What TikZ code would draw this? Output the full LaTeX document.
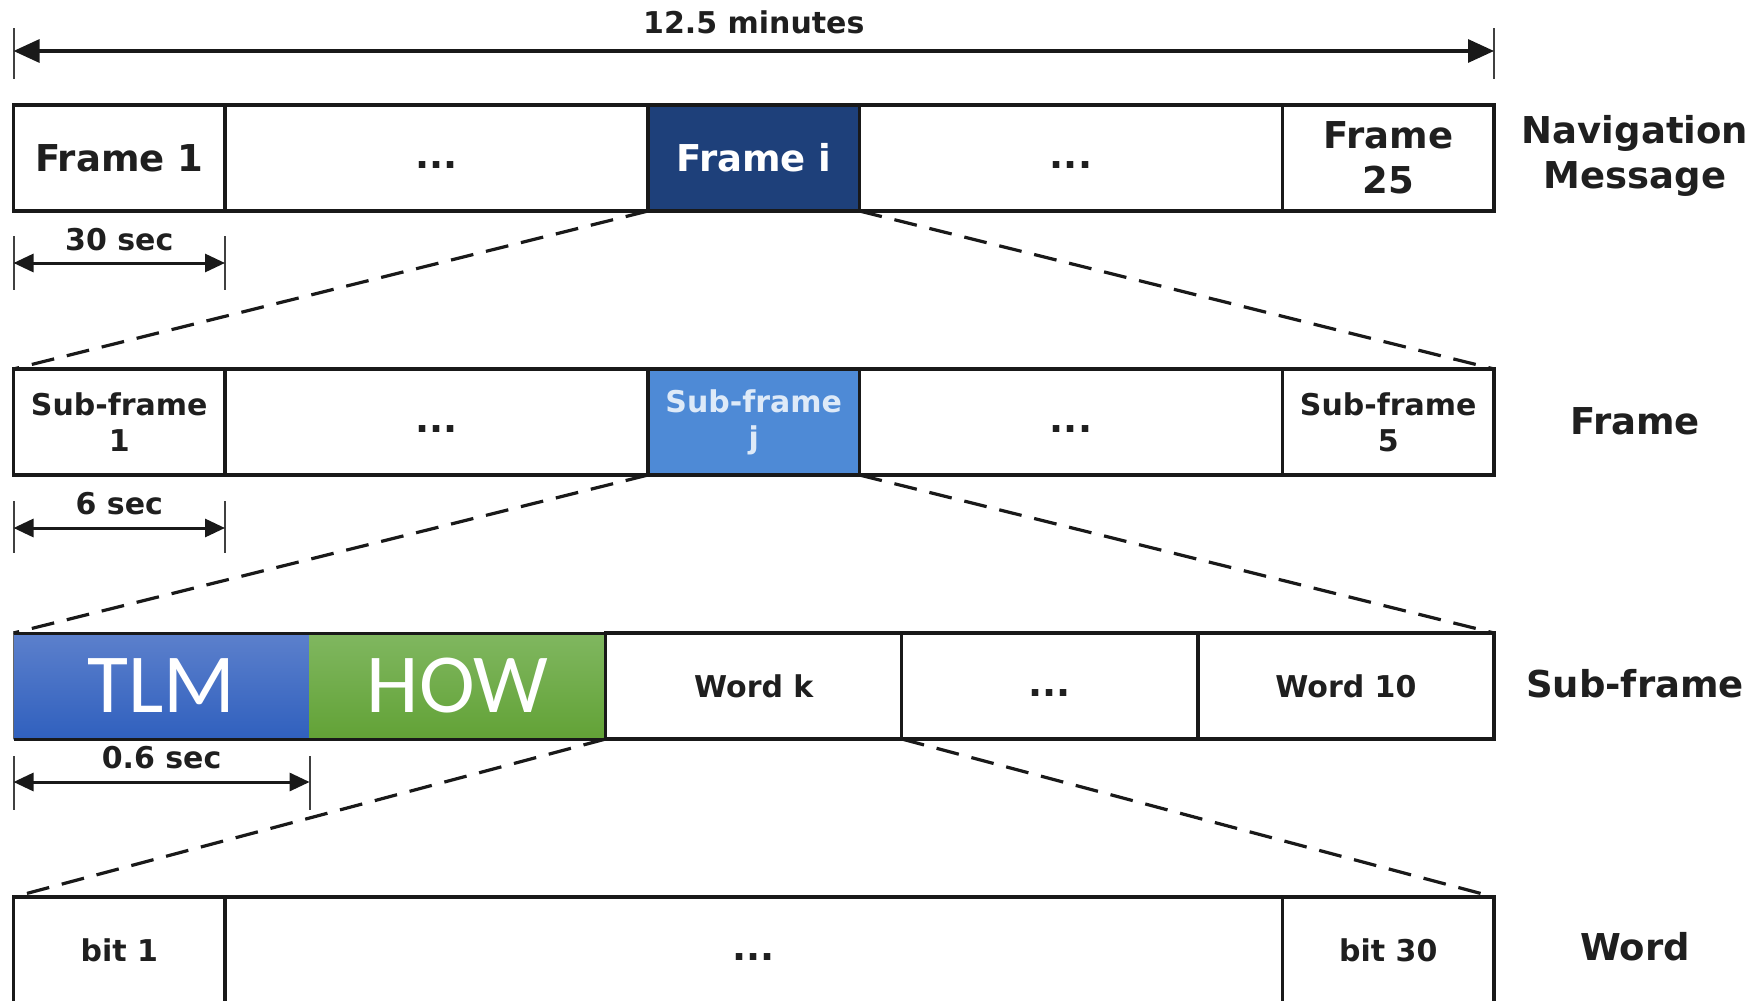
\documentclass[tikz,border=0pt]{standalone}
\usepackage{fontspec}
\setmainfont{DejaVu Sans}
\newfontfamily\lightfont{Carlito}
\usetikzlibrary{arrows.meta,calc}
\definecolor{navy}{RGB}{30,64,122}
\definecolor{skyblue}{RGB}{78,138,214}
\definecolor{palebluetext}{RGB}{222,234,248}
\definecolor{tlmtop}{RGB}{92,128,204}
\definecolor{tlmbot}{RGB}{48,96,190}
\definecolor{howtop}{RGB}{128,183,96}
\definecolor{howbot}{RGB}{98,162,54}
\newcommand{\dotsgap}{\vphantom{a}...}
\begin{document}
\begin{tikzpicture}[x=1pt,y=-1pt,
  cell/.style={draw=black!90, line width=3.2pt, anchor=north west, inner sep=0pt,
    outer sep=0pt, minimum height=106pt, align=center, text=black!88},
  big/.style={font=\bfseries\fontsize{37}{45}\selectfont},
  small/.style={font=\bfseries\fontsize{30}{36}\selectfont},
  side/.style={font=\bfseries\fontsize{37}{45}\selectfont, align=center, text=black!88},
  dimlabel/.style={font=\bfseries\fontsize{30}{36}\selectfont, text=black!88, inner sep=0pt},
  zoomline/.style={line width=3.2pt, draw=black!90, dash pattern=on 23pt off 13pt},
  dimtick/.style={line width=2pt, draw=black!75},
  spanarrow/.style={line width=3.2pt, draw=black!90, {Triangle[length=26pt,width=23pt]}-{Triangle[length=26pt,width=23pt]}},
  spansmall/.style={line width=3pt, draw=black!90, {Triangle[length=20pt,width=18pt]}-{Triangle[length=20pt,width=18pt]}},
  bigtext/.style={font=\lightfont\fontsize{84}{84}\selectfont, text=white},
]
\useasboundingbox (0,0) rectangle (1764,1001);
\clip (0,0) rectangle (1764,1001);

% ---------- navigation message ----------
\node[cell, big, minimum width=211.5pt] (f1) at (13.5,105) {Frame 1};
\node[cell, big, minimum width=423pt] (fd1) at (225,105) {\dotsgap};
\node[cell, big, fill=navy, text=white, minimum width=211.5pt] (fi) at (648,105) {Frame i};
\node[cell, big, minimum width=423pt] (fd2) at (859.5,105) {\dotsgap};
\node[cell, big, minimum width=211.5pt] (f25) at (1282.5,105) {Frame\\25};
\node[side] (lnav) at (1635,156) {Navigation\\Message};

% total span
\draw[dimtick] ($(f1.north west)+(0,-77)$) -- ($(f1.north west)+(0,-26)$);
\draw[dimtick] ($(f25.north east)+(0,-77)$) -- ($(f25.north east)+(0,-26)$);
\draw[spanarrow] ($(f1.north west)+(0,-54)$) -- ($(f25.north east)+(0,-54)$);
\node[dimlabel] (ltot) at ($(f1.north west)!0.5!(f25.north east)+(0,-82.5)$) {12.5 minutes};

% 30 sec span
\draw[dimtick] ($(f1.south west)+(0,25)$) -- ($(f1.south west)+(0,79)$);
\draw[dimtick] ($(f1.south east)+(0,25)$) -- ($(f1.south east)+(0,79)$);
\draw[spansmall] ($(f1.south west)+(0,52)$) -- ($(f1.south east)+(0,52)$);
\node[dimlabel] (l30) at ($(f1.south)+(0,29)$) {30 sec};

% ---------- frame ----------
\node[cell, small, minimum width=211.5pt] (sf1) at (13.5,369) {Sub-frame\\1};
\node[cell, big, minimum width=423pt] (sd1) at (225,369) {\dotsgap};
\node[cell, small, fill=skyblue, text=palebluetext, minimum width=211.5pt] (sfj) at (648,369) {Sub-frame\\j};
\node[cell, big, minimum width=423pt] (sd2) at (859.5,369) {\dotsgap};
\node[cell, small, minimum width=211.5pt] (sf5) at (1282.5,369) {Sub-frame\\5};
\node[side] (lframe) at (1635,421) {Frame};

\draw[zoomline] (fi.south west) -- (sf1.north west);
\draw[zoomline] (fi.south east) -- (sf5.north east);

% 6 sec span
\draw[dimtick] ($(sf1.south west)+(0,26)$) -- ($(sf1.south west)+(0,78)$);
\draw[dimtick] ($(sf1.south east)+(0,26)$) -- ($(sf1.south east)+(0,78)$);
\draw[spansmall] ($(sf1.south west)+(0,53)$) -- ($(sf1.south east)+(0,53)$);
\node[dimlabel] (l6) at ($(sf1.south)+(0,29)$) {6 sec};

% ---------- sub-frame ----------
\node[cell, draw=none, top color=tlmtop, bottom color=tlmbot, minimum width=296.1pt, bigtext] (tlm) at (13.5,633) {TLM};
\node[cell, draw=none, top color=howtop, bottom color=howbot, minimum width=296.1pt, bigtext] (how) at (309.6,633) {HOW};
\draw[line width=3pt, black!90] (tlm.north west) -- (how.north east);
\draw[line width=3pt, black!90] (tlm.south west) -- (how.south east);
\draw[line width=1.5pt, black!60] (tlm.north west) -- (tlm.south west);
\node[cell, small, minimum width=296.1pt] (wk) at (605.7,633) {Word k};
\node[cell, big, minimum width=296.1pt] (wd) at (901.8,633) {\dotsgap};
\node[cell, small, minimum width=296.1pt] (w10) at (1197.9,633) {Word 10};
\node[side] (lsub) at (1635,684) {Sub-frame};

\draw[zoomline] (sfj.south west) -- (tlm.north west);
\draw[zoomline] (sfj.south east) -- (w10.north east);

% 0.6 sec span
\draw[dimtick] ($(tlm.south west)+(0,17)$) -- ($(tlm.south west)+(0,71)$);
\draw[dimtick] ($(tlm.south east)+(0,17)$) -- ($(tlm.south east)+(0,71)$);
\draw[spansmall] ($(tlm.south west)+(0,43)$) -- ($(tlm.south east)+(0,43)$);
\node[dimlabel] (l06) at ($(tlm.south)+(0,19)$) {0.6 sec};

% ---------- word ----------
\node[cell, small, minimum width=211.5pt] (b1) at (13.5,897) {bit 1};
\node[cell, big, minimum width=1057.5pt] (bd) at (225,897) {\dotsgap};
\node[cell, small, minimum width=211.5pt] (b30) at (1282.5,897) {bit 30};
\node[side] (lword) at (1635,947) {Word};

\draw[zoomline] (wk.south west) -- (b1.north west);
\draw[zoomline] (wk.south east) -- (b30.north east);
\end{tikzpicture}
\end{document}
